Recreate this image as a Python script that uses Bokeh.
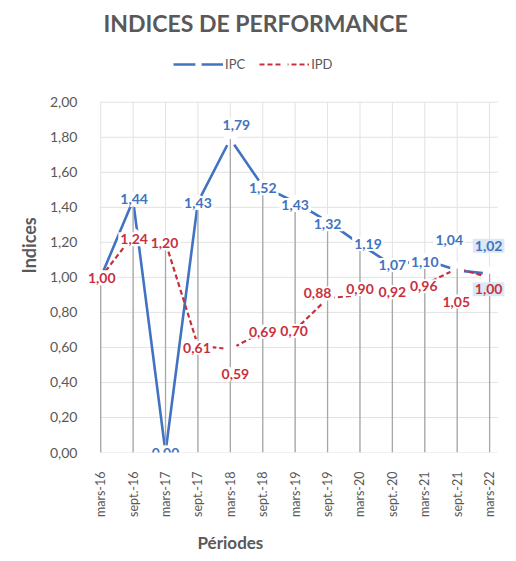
import numpy as np
from bokeh.plotting import figure
from bokeh.models import (ColumnDataSource, Legend, LegendItem, Range1d,
                          FixedTicker, Title)
from bokeh.core.properties import value
from bokeh.embed import file_html
from bokeh.resources import INLINE

# ---------------- data ----------------
periods = ["mars-16", "sept.-16", "mars-17", "sept.-17", "mars-18", "sept.-18",
           "mars-19", "sept.-19", "mars-20", "sept.-20", "mars-21", "sept.-21", "mars-22"]
ipc = [1.00, 1.44, 0.00, 1.43, 1.79, 1.52, 1.43, 1.32, 1.19, 1.07, 1.10, 1.04, 1.02]
ipd = [1.00, 1.24, 1.20, 0.61, 0.59, 0.69, 0.70, 0.88, 0.90, 0.92, 0.96, 1.05, 1.00]
y_ticks = [0.0, 0.2, 0.4, 0.6, 0.8, 1.0, 1.2, 1.4, 1.6, 1.8, 2.0]

# label placement (screen pixel offsets, positive = right / up), styling only
ipc_dx = [0, 1, 0, 0, 6, 0, 0, 0, 8, 0, 0, -8, -1]
ipc_dy = [0, 1, 0, -1, 14, -2, -3, -3, 0, 0, -2, 30, 28]
ipd_dx = [1, 1, -1, -1, 5, 0, -1, -10, 0, 0, -1, -1, -1]
ipd_dy = [-1, -4, -1, -2, -25, 0, -1, 5, 6, -1, -2, -33, -12]

BLUE = "#4173c0"
RED = "#c9303f"
GREY_TXT = "#595959"
GRID = "#e2e2e2"
FONT = "Lato"

def fmt(v):
    return f"{v:.2f}".replace(".", ",")

xs = list(range(len(periods)))
x_lo, x_hi = -0.03, 12.25          # extent of the drawn grid area
y_lo, y_hi = y_ticks[0], y_ticks[-1]

p = figure(width=516, height=561, output_backend="svg", toolbar_location=None,
           x_range=Range1d(-0.5, 12.83), y_range=Range1d(0, 2.341),
           min_border_left=84, min_border_right=0, min_border_top=40,
           min_border_bottom=109)
p.background_fill_color = "white"
p.border_fill_color = "white"
p.outline_line_color = None
p.xgrid.visible = False
p.ygrid.visible = False

# title
p.title.text = "INDICES DE PERFORMANCE"
p.title.align = "left"
p.title.offset = 19
p.title.standoff = 12
p.title.text_font = FONT
p.title.text_font_size = "23px"
p.title.text_font_style = "bold"
p.title.text_color = GREY_TXT

# axes
p.xaxis.ticker = FixedTicker(ticks=xs)
p.xaxis.major_label_overrides = {i: s for i, s in enumerate(periods)}
p.xaxis.major_label_orientation = np.pi / 2
p.xaxis.major_label_standoff = 13
p.xaxis.major_label_text_font_size = "12.5px"
p.yaxis.ticker = FixedTicker(ticks=y_ticks)
p.yaxis.major_label_overrides = {t: fmt(t) for t in y_ticks}
p.yaxis.major_label_standoff = 1
p.yaxis.major_label_text_font_size = "14px"
for ax in (p.xaxis, p.yaxis):
    ax.axis_line_color = None
    ax.major_tick_line_color = None
    ax.minor_tick_line_color = None
    ax.major_label_text_font = FONT
    ax.major_label_text_color = GREY_TXT

# axis titles as side titles
p.add_layout(Title(text="Indices", align="left", offset=179, standoff=14,
                   text_font=FONT, text_font_size="18px", text_font_style="bold",
                   text_color=GREY_TXT), "left")
p.add_layout(Title(text="Périodes", align="left", offset=113, standoff=18,
                   text_font=FONT, text_font_size="17px", text_font_style="bold",
                   text_color=GREY_TXT), "below")

# grid (drawn only over the chart's plot area)
p.segment(x0=[x_lo] * len(y_ticks), y0=y_ticks, x1=[x_hi] * len(y_ticks), y1=y_ticks,
          line_color=GRID, line_width=1)
p.segment(x0=xs, y0=[y_lo] * len(xs), x1=xs, y1=[y_hi] * len(xs),
          line_color=GRID, line_width=1)

# series lines with blank (white) markers
l_ipc = p.line(xs, ipc, line_color=BLUE, line_width=2.6)
l_ipd = p.line(xs, ipd, line_color=RED, line_width=2.2, line_dash="5 3")
m_ipc = p.scatter(xs, ipc, marker="circle", size=14, fill_color="white", line_color=None)
m_ipd = p.scatter(xs, ipd, marker="circle", size=14, fill_color="white", line_color=None)

# drop lines
top = [max(a, b) for a, b in zip(ipc, ipd)]
p.segment(x0=xs, y0=[0] * len(xs), x1=xs, y1=top, line_color="#a8a8a8", line_width=1.3)

legend = Legend(items=[LegendItem(label="IPC", renderers=[l_ipc, m_ipc]),
                       LegendItem(label="IPD", renderers=[l_ipd, m_ipd])],
                orientation="horizontal", location=(89, 380),
                glyph_width=50, glyph_height=16, label_text_font=FONT,
                label_text_font_size="13px", label_text_color=GREY_TXT,
                label_standoff=2, spacing=14, padding=0, margin=0,
                background_fill_alpha=0, border_line_color=None)
p.add_layout(legend, "center")

# data labels
n = len(periods)
bg = ["white"] * (n - 1) + ["#dbe8f5"]
src_ipc = ColumnDataSource(dict(x=xs, y=ipc, t=[fmt(v) for v in ipc],
                                dx=ipc_dx, dy=[-d for d in ipc_dy], bg=bg))
src_ipd = ColumnDataSource(dict(x=xs, y=ipd, t=[fmt(v) for v in ipd],
                                dx=ipd_dx, dy=[-d for d in ipd_dy], bg=bg))
for src, col in ((src_ipc, BLUE), (src_ipd, RED)):
    p.text(x="x", y="y", text="t", source=src, x_offset="dx", y_offset="dy",
           text_align="center", text_baseline="middle", text_font=value(FONT),
           text_font_size="14px", text_font_style="bold", text_color=col,
           background_fill_color="bg", padding=2)

open("out.html", "w").write(file_html(p, INLINE))
